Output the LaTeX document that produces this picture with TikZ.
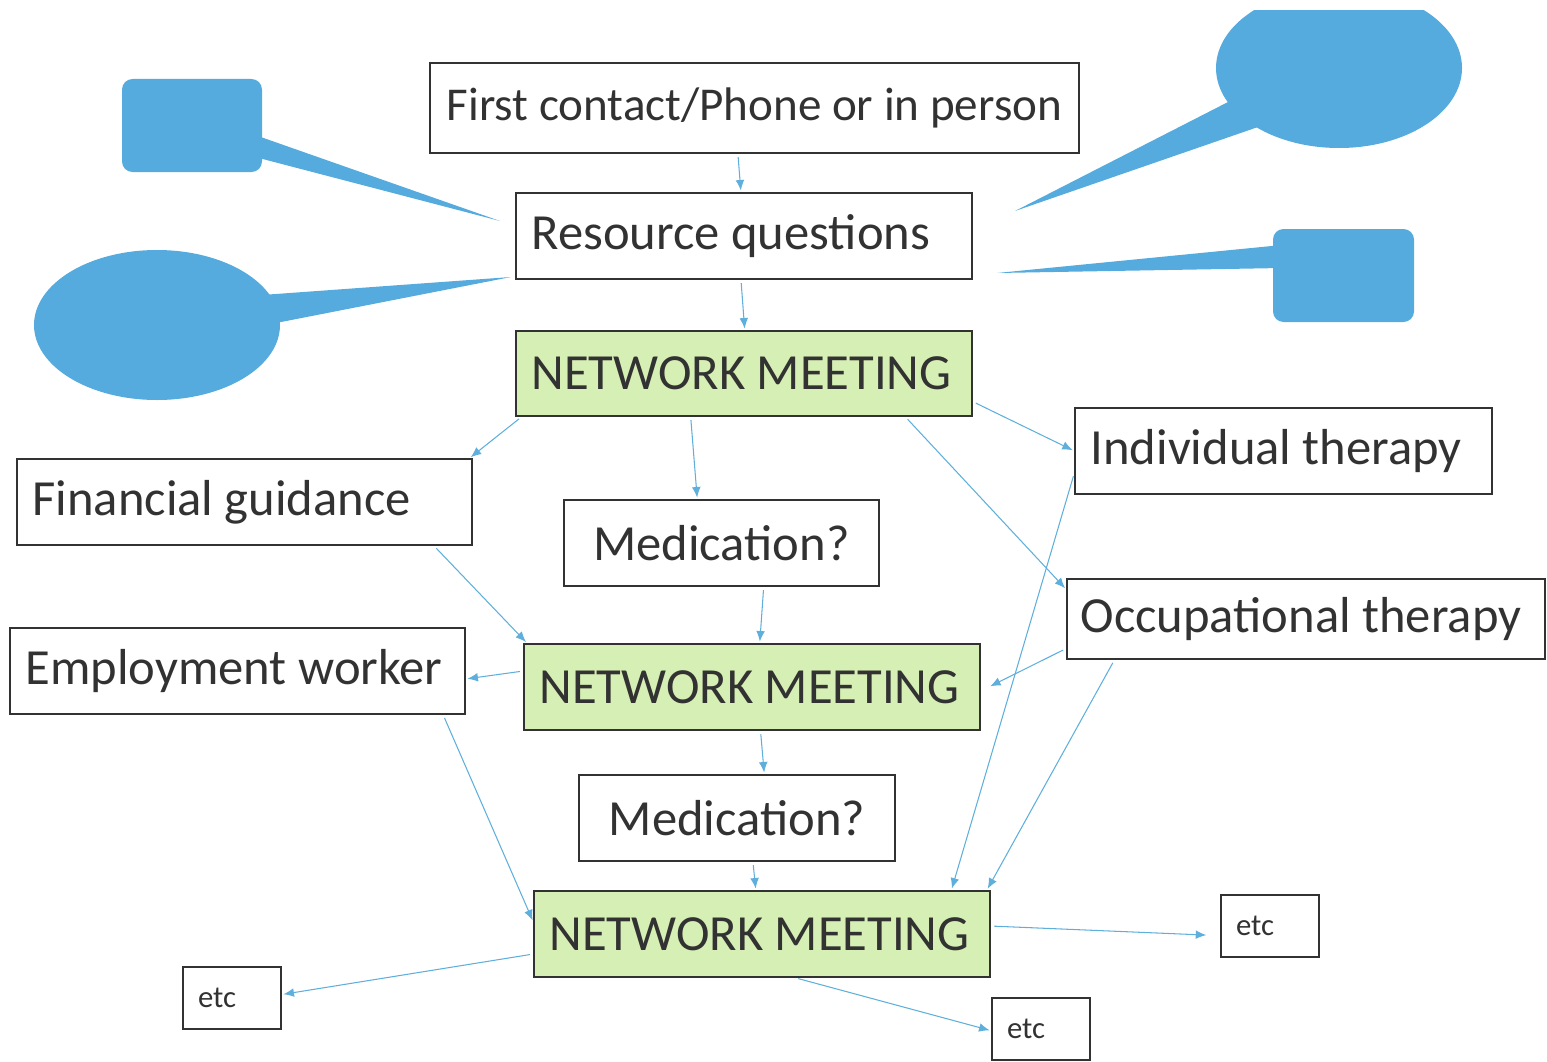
\documentclass[tikz,border=0pt]{standalone}
\usepackage{fontspec}
\setmainfont{Carlito}
\usetikzlibrary{arrows.meta}
\definecolor{ink}{RGB}{50,50,50}
\definecolor{bubble}{RGB}{85,170,222}
\definecolor{meetgreen}{RGB}{214,239,180}
\definecolor{arrowblue}{RGB}{95,175,220}
\begin{document}
\begin{tikzpicture}[x=.02cm,y=-.02cm,
  box/.style={draw=ink,line width=.8pt,text=ink,font=\fontsize{28.8}{33}\selectfont,inner xsep=.31cm,align=flush left,minimum height=1.72cm},
  meet/.style={box,fill=meetgreen},
  etcbox/.style={box,font=\fontsize{17.5}{20}\selectfont,inner xsep=.3cm,minimum height=1.24cm,text width=1.36cm},
  conn/.style={draw=arrowblue,line width=.6pt,-{Latex[length=6pt,width=5pt]},shorten <=2pt,shorten >=1pt}]
  \useasboundingbox (0,0) rectangle (1547,1061);
  \fill[bubble,rounded corners=6pt] (122,79) rectangle (262,172); \fill[bubble] (255,135)--(500,221)--(255,157)--cycle;
  \fill[bubble] (157,325) ellipse [x radius=123,y radius=75]; \fill[bubble] (262,295)--(511,277)--(276,323)--cycle;
  \begin{scope} \clip (0,11) rectangle (1547,1061); \fill[bubble] (1339,68) ellipse [x radius=123,y radius=80]; \end{scope}
  \fill[bubble] (1230,101)--(1015,211)--(1258,127)--cycle;
  \fill[bubble,rounded corners=6pt] (1273,229) rectangle (1414,322); \fill[bubble] (1282,245)--(997,273)--(1282,268)--cycle;
  \node[box,font=\fontsize{26.8}{31}\selectfont,align=center,minimum width=12.98cm,minimum height=1.8cm] (first) at (754.5,108) {First contact/Phone or in person};
  \node[box,text width=8.50cm] (res) at (744,236) {Resource questions};
  \node[meet,text width=8.50cm,minimum height=1.7cm] (nm1) at (744,373.5) {NETWORK MEETING};
  \node[box,text width=8.48cm] (fin) at (244.5,502) {Financial guidance};
  \node[box,text width=5.68cm,align=center] (med1) at (721.5,543) {Medication?};
  \node[box,text width=7.72cm] (ind) at (1283.5,451) {Individual therapy};
  \node[box,text width=9.02cm,minimum height=1.6cm,inner xsep=.27cm] (occ) at (1306,619) {Occupational therapy};
  \node[box,text width=8.48cm] (emp) at (237.5,671) {Employment worker};
  \node[meet,text width=8.50cm] (nm2) at (752,687) {NETWORK MEETING};
  \node[box,text width=5.70cm,align=center] (med2) at (737,818) {Medication?};
  \node[meet,text width=8.50cm] (nm3) at (762,934) {NETWORK MEETING};
  \node[etcbox] (etc1) at (232,998) {etc}; \node[etcbox] (etc2) at (1270,926) {etc}; \node[etcbox] (etc3) at (1041,1029) {etc};
  \draw[conn] (first.-110)--(res.94); \draw[conn] (res.-94)--(nm1.89);
  \draw[conn] (nm1.-169)--(fin.11); \draw[conn] (nm1.-141)--(med1.119); \draw[conn] (nm1.-7)--(ind.west); \draw[conn] (nm1.-15)--(occ.173);
  \draw[conn] (fin.-13)--(nm2.169); \draw[conn] (med1.-46)--(nm2.80); \draw[conn] (nm2.176)--(emp.-2); \draw[conn,shorten >=6pt] (occ.-173)--(nm2.-1);
  \draw[conn] (nm2.-79)--(med2.58); \draw[conn] (emp.-12.5)--(nm3.177.5); \draw[conn] (med2.-70)--(nm3.98);
  \draw[conn] (ind.-174)--(nm3.13); \draw[conn] (occ.-168.4)--(nm3.11);
  \draw[conn] (nm3.-175)--(etc1.4); \draw[conn,shorten >=8pt] (nm3.2)--(etc2.-169); \draw[conn] (nm3.-53)--(etc3.-178);
\end{tikzpicture}
\end{document}
